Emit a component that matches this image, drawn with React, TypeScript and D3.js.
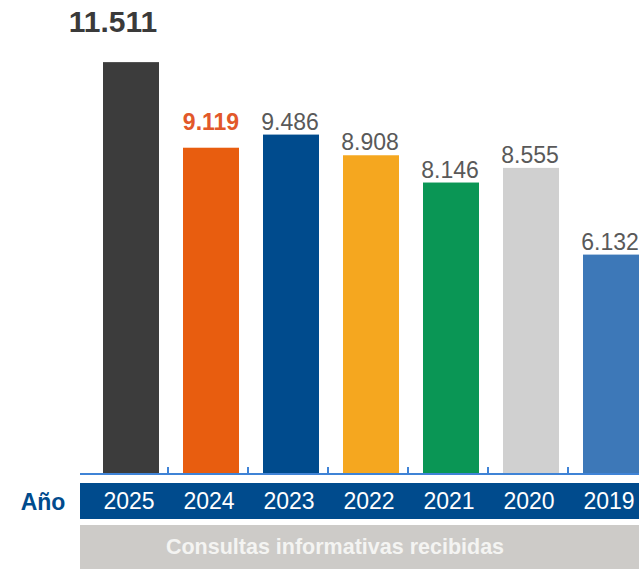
import React from "react";
import * as d3 from "d3";

const years = ["2025", "2024", "2023", "2022", "2021", "2020", "2019"];
const values = [11511, 9119, 9486, 8908, 8146, 8555, 6132];
const valueLabels = ["11.511", "9.119", "9.486", "8.908", "8.146", "8.555", "6.132"];
const barColors = ["#3c3c3c", "#e85d0f", "#004b8d", "#f5a71f", "#0a9655", "#d0d0d0", "#3d78b8"];
const axisTitle = "Año";
const footerText = "Consultas informativas recibidas";

const W = 639;
const H = 569;
const FONT = "'Liberation Sans', Arial, Helvetica, sans-serif";

const labelStyles: Record<string, { color: string; size: number; weight: number; gap: number; dx: number }> = {
  "2025": { color: "#3a3a3a", size: 30, weight: 700, gap: 30, dx: -18 },
  "2024": { color: "#e2582a", size: 23, weight: 700, gap: 18, dx: 0 },
};
const defaultLabel = { color: "#595959", size: 23, weight: 400, gap: 5, dx: -1 };

export default function App() {
  const baseY = 474;
  const x = d3
    .scaleBand<string>()
    .domain(years)
    .range([91, 651])
    .paddingInner(0.3)
    .paddingOuter(0.15);
  const y = d3.scaleLinear().domain([0, 11850]).range([baseY, 50]);
  const bw = x.bandwidth();
  const step = x.step();

  return (
    <div style={{ position: "absolute", left: 0, top: 0, width: W, height: H, overflow: "hidden" }}>
      <svg width={W} height={H} style={{ display: "block", fontFamily: FONT }}>
        <rect x={0} y={0} width={W} height={H} fill="#ffffff" />
        {years.map((yr, i) => (
          <rect
            key={yr}
            x={x(yr)!}
            y={y(values[i])}
            width={bw}
            height={baseY - y(values[i])}
            fill={barColors[i]}
          />
        ))}
        {years.map((yr, i) => {
          const s = labelStyles[yr] || defaultLabel;
          return (
            <text
              key={"l" + yr}
              x={x(yr)! + bw / 2 + s.dx}
              y={y(values[i]) - s.gap}
              textAnchor="middle"
              fill={s.color}
              fontSize={s.size}
              fontWeight={s.weight}
            >
              {valueLabels[i]}
            </text>
          );
        })}
        {/* axis line */}
        <line x1={80} x2={W} y1={baseY} y2={baseY} stroke="#3f83d6" strokeWidth={2} />
        {years.slice(1).map((yr) => {
          const tx = x(yr)! - (step - bw) / 2 - 3;
          return <line key={"t" + yr} x1={tx} x2={tx} y1={baseY - 7} y2={baseY} stroke="#3f83d6" strokeWidth={2} />;
        })}
        {/* year band */}
        <rect x={80} y={483} width={W - 80} height={36} fill="#004b8d" />
        {years.map((yr) => (
          <text
            key={"y" + yr}
            x={x(yr)! + bw / 2 - 2}
            y={509}
            textAnchor="middle"
            fill="#ffffff"
            fontSize={23}
          >
            {yr}
          </text>
        ))}
        <text x={43} y={510} textAnchor="middle" fill="#004b8d" fontSize={23} fontWeight={700}>
          {axisTitle}
        </text>
        {/* footer */}
        <rect x={80} y={525} width={W - 80} height={H - 525} fill="#cdcbc8" />
        <text x={335} y={554} textAnchor="middle" fill="#f4f4f2" fontSize={21.5} fontWeight={700}>
          {footerText}
        </text>
      </svg>
    </div>
  );
}
